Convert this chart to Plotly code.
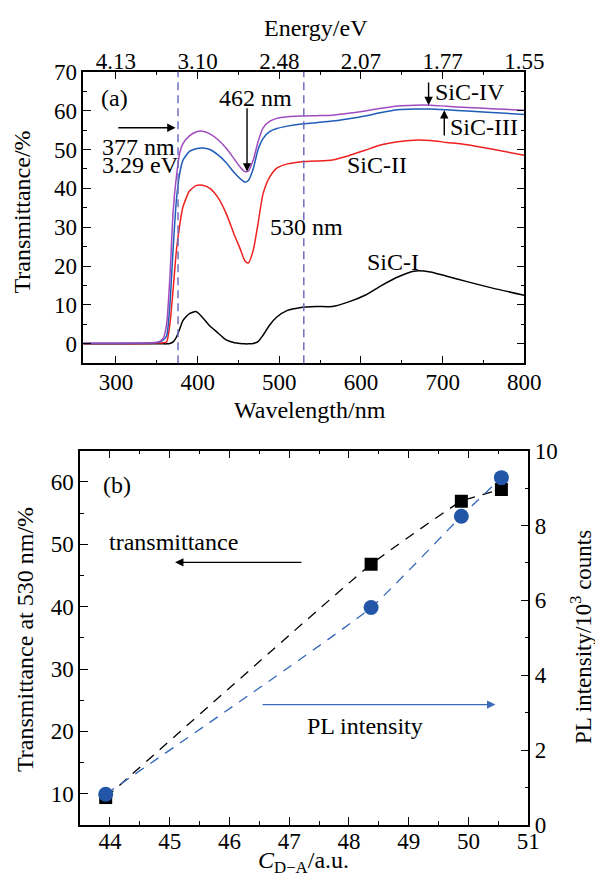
import plotly.graph_objects as go

# ---------------- data: panel (a) ----------------
wavelength = [260, 300, 340, 352, 358, 362, 366, 370, 374, 378, 382, 390, 398, 406, 415,
              425, 435, 445, 452, 458, 462, 468, 474, 480, 488, 497, 510, 525, 545, 565,
              585, 605, 625, 645, 665, 685, 705, 730, 760, 800]
sic_I = [0, 0, 0, 0, 0, 0, 0.1, 0.5, 1.7, 3.8, 6.0, 7.8, 8.3, 6.8, 4.6,
         2.8, 1.0, 0.3, 0.1, 0, 0, 0.1, 0.6, 2.2, 4.8, 6.9, 8.6, 9.3, 9.6, 9.6,
         10.8, 12.5, 15.0, 17.2, 18.7, 18.5, 17.4, 16.0, 14.4, 12.5]
sic_II = [0, 0, 0.1, 0.2, 0.3, 0.5, 5.0, 14.0, 24.0, 30.5, 35.2, 39.3, 40.7, 40.8, 40.0,
          37.6, 33.5, 28.0, 24.5, 21.3, 20.8, 24.0, 31.0, 38.5, 42.8, 45.2, 46.3, 46.8, 47.0, 47.3,
          48.4, 49.8, 51.2, 52.0, 52.4, 52.3, 51.8, 51.2, 50.1, 48.5]
sic_III = [0.1, 0.1, 0.2, 0.4, 1.0, 2.0, 10.0, 24.5, 37.0, 43.8, 47.2, 49.5, 50.2, 50.4, 50.0,
           48.6, 46.6, 44.0, 42.5, 41.6, 42.0, 45.0, 50.0, 52.8, 54.6, 55.4, 56.0, 56.5, 56.9, 57.3,
           57.9, 58.6, 59.5, 60.2, 60.4, 60.4, 60.2, 59.9, 59.5, 59.0]
sic_IV = [0.2, 0.2, 0.3, 0.5, 1.5, 5.0, 17.0, 34.0, 43.0, 49.0, 51.5, 53.5, 54.5, 54.7, 54.0,
          52.5, 50.3, 47.5, 45.5, 44.3, 44.4, 47.2, 52.0, 55.5, 57.2, 58.0, 58.4, 58.6, 58.7, 58.8,
          59.3, 59.9, 60.6, 61.2, 61.4, 61.4, 61.1, 60.8, 60.5, 60.1]
energy_tick_wl = [300, 400, 500, 600, 700, 800]
energy_tick_text = ["4.13", "3.10", "2.48", "2.07", "1.77", "1.55"]
marker_wl = [376, 530]

# ---------------- data: panel (b) ----------------
c_da = [43.93, 48.37, 49.88, 50.55]
trans_530 = [9.4, 46.8, 56.9, 58.8]
pl_intensity = [0.82, 5.81, 8.25, 9.28]

FONT = "Liberation Serif, Times New Roman, DejaVu Serif, serif"
FS = 23
FS_TXT = 24

fig = go.Figure()

colors = {"I": "black", "II": "#f02020", "III": "#1f5cb8", "IV": "#a04cc0"}
for name, vals in [("I", sic_I), ("II", sic_II), ("III", sic_III), ("IV", sic_IV)]:
    fig.add_trace(go.Scatter(x=wavelength, y=vals, mode="lines",
                             line=dict(color=colors[name], width=1.5, shape="spline", smoothing=0.6),
                             xaxis="x", yaxis="y", showlegend=False, hoverinfo="skip"))
# invisible trace for top energy axis
fig.add_trace(go.Scatter(x=[260, 800], y=[0, 0], mode="markers", marker=dict(opacity=0),
                         xaxis="x2", yaxis="y", showlegend=False, hoverinfo="skip"))

# panel (b)
fig.add_trace(go.Scatter(x=c_da, y=trans_530, mode="lines",
                         line=dict(color="black", width=1.3, dash="10px,8px", shape="spline", smoothing=0.3),
                         xaxis="x3", yaxis="y3", showlegend=False))
fig.add_trace(go.Scatter(x=c_da, y=pl_intensity, mode="lines",
                         line=dict(color="#3366bb", width=1.3, dash="10px,8px", shape="spline", smoothing=0.4),
                         xaxis="x3", yaxis="y4", showlegend=False))
fig.add_trace(go.Scatter(x=c_da, y=trans_530, mode="markers",
                         marker=dict(symbol="square", size=13, color="black"),
                         xaxis="x3", yaxis="y3", showlegend=False))
fig.add_trace(go.Scatter(x=c_da, y=pl_intensity, mode="markers",
                         marker=dict(symbol="circle", size=15, color="#2456a8"),
                         xaxis="x3", yaxis="y4", showlegend=False))

W, H = 595, 876
def px(x):
    return x / W
def py(y):
    return 1 - y / H

tickfont = dict(family=FONT, size=FS, color="black")
common = dict(showgrid=False, zeroline=False, showline=True, linecolor="black", linewidth=1.5,
              ticks="inside", ticklen=8, tickwidth=1.3, tickcolor="black", tickfont=tickfont,
              automargin=False)
minor = lambda d: dict(ticks="inside", ticklen=4, tickwidth=1.2, tickcolor="black", tickmode="linear", tick0=0, dtick=d)

fig.update_layout(
    width=W, height=H, margin=dict(l=0, r=0, t=0, b=0, autoexpand=False),
    paper_bgcolor="white", plot_bgcolor="white",
    font=dict(family=FONT, size=FS, color="black"),
    xaxis=dict(domain=[px(83.3), px(524.3)], anchor="y", range=[260, 800],
               tickmode="linear", tick0=0, dtick=100, minor=minor(50), ticklabelstandoff=-3, **common),
    xaxis2=dict(domain=[px(83.3), px(524.3)], anchor="y", overlaying="x", side="top", range=[260, 800],
                tickmode="array", tickvals=energy_tick_wl, ticktext=energy_tick_text,
                ticklabelstandoff=-8,
                minor=dict(ticks="inside", ticklen=4, tickwidth=1.2, tickcolor="black",
                           tickmode="array", tickvals=[350, 450, 550, 650, 750]), **common),
    yaxis=dict(domain=[py(363.3), py(71.7)], anchor="x", range=[-5, 70],
               tickmode="linear", tick0=0, dtick=10, minor=minor(5), mirror="ticks", **common),
    xaxis3=dict(domain=[px(80), px(528.3)], anchor="y3", range=[43.5, 51],
                tickmode="linear", tick0=0, dtick=1, minor=minor(0.5), mirror="ticks",
                ticklabelstandoff=-5, **common),
    yaxis3=dict(domain=[py(825), py(450.7)], anchor="x3", range=[5, 65],
                tickmode="linear", tick0=0, dtick=10, minor=minor(5), **common),
    yaxis4=dict(domain=[py(825), py(450.7)], anchor="x3", overlaying="y3", side="right", range=[0, 10],
                tickmode="linear", tick0=0, dtick=2, minor=minor(1), **common),
)

# dashed vertical markers
for wl in marker_wl:
    fig.add_shape(type="line", xref="x", yref="y domain", x0=wl, x1=wl, y0=0, y1=1,
                  line=dict(color="#6f6fc0", width=1.5, dash="8px,5px"))

def txt(x, y, s, xref, yref, xanchor="center", yanchor="middle", size=FS_TXT, **kw):
    fig.add_annotation(x=x, y=y, text=s, xref=xref, yref=yref, showarrow=False,
                       xanchor=xanchor, yanchor=yanchor,
                       font=dict(family=FONT, size=size, color="black"), **kw)

def arrow(x, y, ax, ay, xref, yref, color="black"):
    fig.add_annotation(x=x, y=y, ax=ax, ay=ay, xref=xref, yref=yref, axref=xref, ayref=yref,
                       text="", showarrow=True, arrowhead=2, arrowsize=1.2, arrowwidth=1.4,
                       arrowcolor=color, standoff=0, startstandoff=0)

# panel (a) texts
txt(298.4, 63.2, "(a)", "x", "y")
txt(470.8, 63.2, "462 nm", "x", "y")
txt(280, 50.6, "377 nm", "x", "y", xanchor="left")
txt(280, 46.0, "3.29 eV", "x", "y", xanchor="left")
txt(533, 30.0, "530 nm", "x", "y")
txt(619.5, 46.0, "SiC-II", "x", "y")
txt(639.5, 21.0, "SiC-I", "x", "y")
txt(734, 64.8, "SiC-IV", "x", "y")
txt(751, 55.8, "SiC-III", "x", "y")
arrow(460.5, 44.3, 460.5, 61.0, "x", "y")
arrow(373, 55.6, 301, 55.6, "x", "y")
arrow(682.8, 61.4, 682.8, 67.6, "x", "y")
arrow(702, 60.1, 702, 53.2, "x", "y")

# panel (b) texts
txt(44.12, 59.5, "(b)", "x3", "y3")
txt(45.06, 50.3, "transmittance", "x3", "y3")
txt(48.27, 20.95, "PL intensity", "x3", "y3")
arrow(45.09, 47.1, 47.23, 47.1, "x3", "y3")
arrow(50.45, 24.3, 46.53, 24.3, "x3", "y3", color="#3a6ab8")

# axis titles
txt(px(316), py(28), "Energy/eV", "paper", "paper")
txt(px(310), py(410), "Wavelength/nm", "paper", "paper")
txt(px(21), py(212.5), "Transmittance/%", "paper", "paper", textangle=-90)
txt(px(25), py(640), "Transmittance at 530 nm/%", "paper", "paper", textangle=-90)
txt(px(581), py(637), "PL intensity/10<sup>3</sup> counts", "paper", "paper", textangle=-90, size=23)
txt(px(303), py(862), "<i>C</i><sub>D−A</sub>/a.u.", "paper", "paper")

fig.write_html("out.html", config={"displayModeBar": False},
               post_script="document.documentElement.style.margin='0';document.body.style.margin='0';document.body.style.overflow='hidden';")
